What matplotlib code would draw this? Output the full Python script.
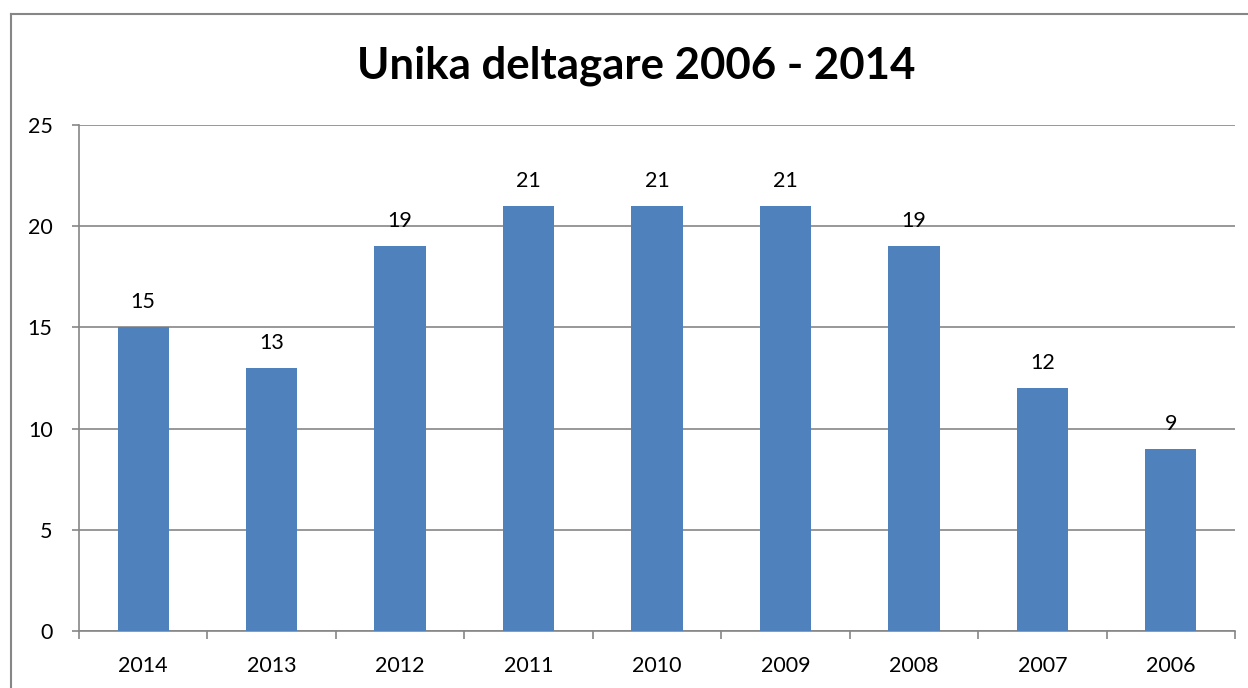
import matplotlib.pyplot as plt
from matplotlib.lines import Line2D

years = ['2014', '2013', '2012', '2011', '2010', '2009', '2008', '2007', '2006']
deltagare = [15, 13, 19, 21, 21, 21, 19, 12, 9]
yticks = [0, 5, 10, 15, 20, 25]

plt.rcParams['font.family'] = ['Lato', 'DejaVu Sans']

W, H = 1248, 688
fig = plt.figure(figsize=(W / 100, H / 100), dpi=100)
ax = fig.add_axes([79 / W, 1 - 631 / H, (1235 - 79) / W, (631 - 125) / H])

x = list(range(len(years)))
bars = ax.bar(x, deltagare, width=0.4, color='#4F81BD', zorder=3)
for xi, v in zip(x, deltagare):
    ax.text(xi, v + 0.75, str(v), ha='center', va='bottom', fontsize=15.5)

ax.set_xlim(-0.5, len(years) - 0.5)
ax.set_ylim(0, 25)
ax.set_yticks(yticks)
ax.set_yticklabels([str(t) for t in yticks], fontsize=15.5)
ax.set_xticks(x)
ax.set_xticklabels(years, fontsize=15.5)
ax.tick_params(axis='x', length=0, pad=18)
ax.tick_params(axis='y', length=5, color='#868686', width=1.2, pad=14)
# category boundary ticks
ax.set_xticks([i - 0.5 for i in range(len(years) + 1)], minor=True)
ax.tick_params(axis='x', which='minor', length=6, color='#868686', width=1.2)

ax.grid(axis='y', color='#868686', linewidth=1.2, zorder=0)
for s in ['top', 'right']:
    ax.spines[s].set_visible(False)
for s in ['left', 'bottom']:
    ax.spines[s].set_color('#868686')
    ax.spines[s].set_linewidth(1.2)

fig.text(636 / W, 1 - 66 / H, 'Unika deltagare 2006 - 2014', ha='center', va='center',
         fontsize=31.5, fontweight='bold')

# outer chart border (only left and top visible in the crop)
fig.add_artist(Line2D([10.5 / W, 10.5 / W], [0, 1 - 13.5 / H], color='#868686', lw=1.5))
fig.add_artist(Line2D([10.5 / W, 1], [1 - 13.5 / H, 1 - 13.5 / H], color='#868686', lw=1.5))

fig.savefig('out.png', dpi=100)
